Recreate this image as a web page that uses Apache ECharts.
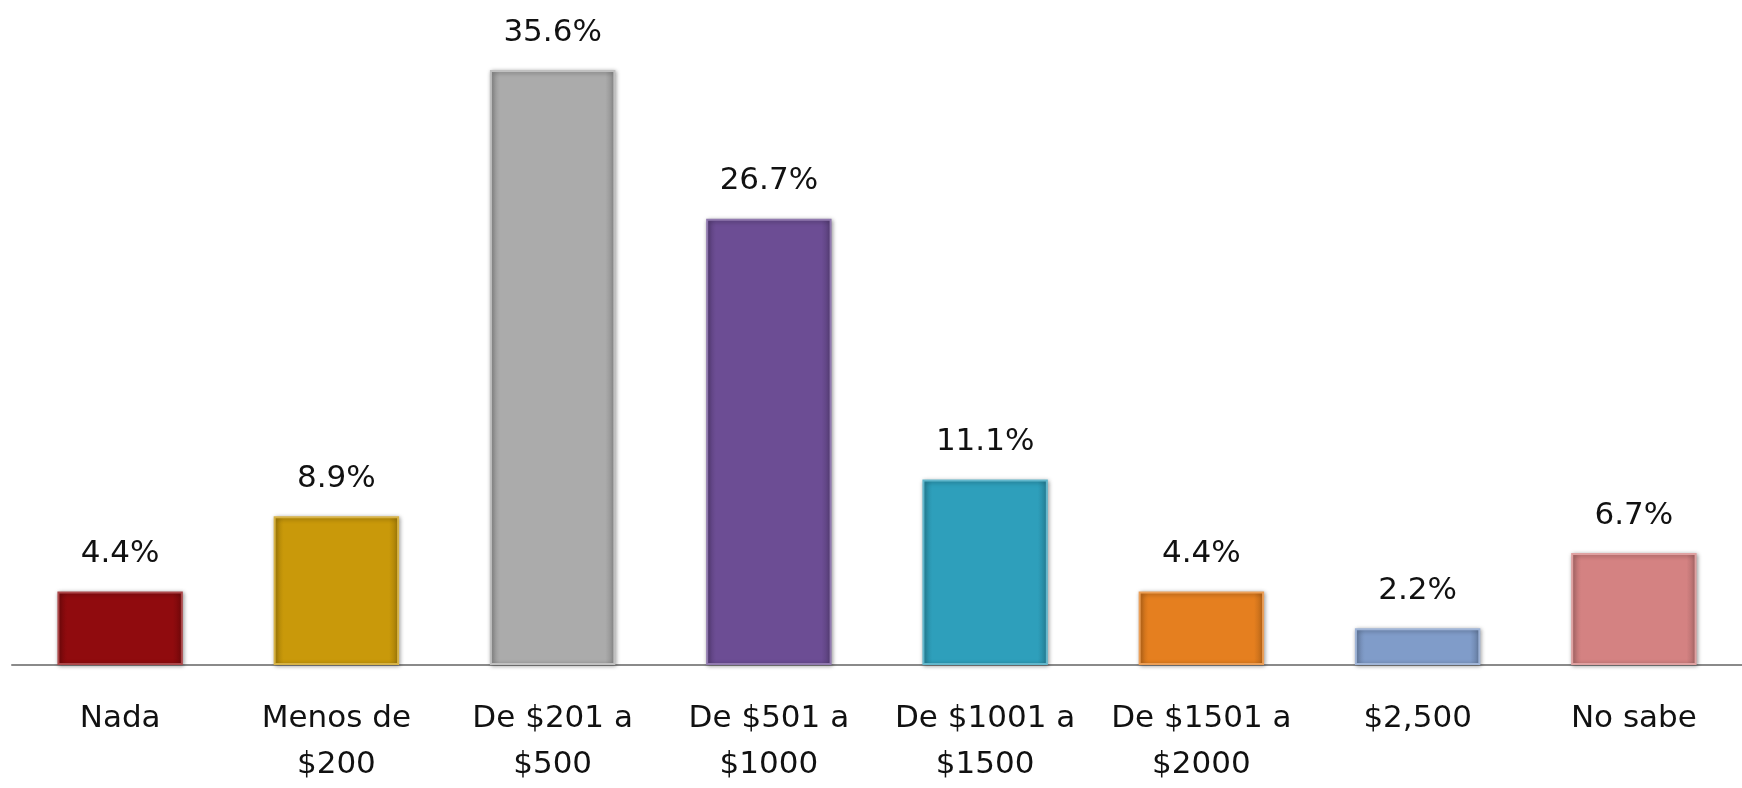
<!DOCTYPE html>
<html lang="es">
<head>
    <meta charset="UTF-8">
    <style>
        html, body { margin: 0; padding: 0; background: #ffffff; }
        #chart { width: 1742px; height: 788px; }
    </style>
    <script src="https://cdn.jsdelivr.net/npm/echarts@6/dist/echarts.min.js"></script>
</head>
<body>
    <div id="chart"></div>
    <script>
        // categorias y porcentajes
        var categorias = ['Nada', 'Menos de\n$200', 'De $201 a\n$500', 'De $501 a\n$1000',
            'De $1001 a\n$1500', 'De $1501 a\n$2000', '$2,500', 'No sabe'];
        var valores = [4.4, 8.9, 35.6, 26.7, 11.1, 4.4, 2.2, 6.7];
        var colores = ['#900b0e', '#c9990a', '#ababab', '#6c4d94', '#2e9fbb', '#e57f1f', '#809cc9', '#d48282'];

        function aclarar(hex, f) {
            var n = parseInt(hex.slice(1), 16);
            var r = (n >> 16) & 255, g = (n >> 8) & 255, b = n & 255;
            r = Math.round(r + (255 - r) * f);
            g = Math.round(g + (255 - g) * f);
            b = Math.round(b + (255 - b) * f);
            return 'rgb(' + r + ',' + g + ',' + b + ')';
        }
        function oscurecer(hex, f) {
            var n = parseInt(hex.slice(1), 16);
            var r = (n >> 16) & 255, g = (n >> 8) & 255, b = n & 255;
            return 'rgb(' + Math.round(r * f) + ',' + Math.round(g * f) + ',' + Math.round(b * f) + ')';
        }

        var chart = echarts.init(document.getElementById('chart'));

        var option = {
            backgroundColor: '#ffffff',
            animation: false,
            grid: { left: 12, right: -6, top: 30, bottom: 119 },
            xAxis: {
                type: 'category',
                data: categorias,
                axisLine: { lineStyle: { color: '#8a8a8a', width: 2 } },
                axisTick: { show: false },
                axisLabel: {
                    margin: 31,
                    color: '#111',
                    fontFamily: 'DejaVu Sans',
                    fontSize: 31,
                    lineHeight: 46,
                    interval: 0
                }
            },
            yAxis: {
                type: 'value',
                min: 0,
                max: 38,
                show: false,
                splitLine: { show: false }
            },
            series: [{
                type: 'bar',
                barCategoryGap: '42%',
                data: valores.map(function (v, i) {
                    return {
                        value: v,
                        itemStyle: {
                            color: {
                                type: 'linear', x: 0, y: 0, x2: 1, y2: 0,
                                colorStops: [
                                    { offset: 0, color: oscurecer(colores[i], 0.85) },
                                    { offset: 0.08, color: colores[i] },
                                    { offset: 0.92, color: colores[i] },
                                    { offset: 1, color: oscurecer(colores[i], 0.8) }
                                ]
                            },
                            borderColor: aclarar(colores[i], 0.25),
                            borderWidth: 2,
                            shadowColor: 'rgba(0,0,0,0.35)',
                            shadowBlur: 4,
                            shadowOffsetX: 1,
                            shadowOffsetY: 1
                        }
                    };
                }),
                label: {
                    show: true,
                    position: 'top',
                    distance: 22,
                    color: '#111',
                    fontFamily: 'DejaVu Sans',
                    fontSize: 31,
                    formatter: function (p) { return p.value.toFixed(1) + '%'; }
                }
            }]
        };

        chart.setOption(option);
    </script>
</body>
</html>
